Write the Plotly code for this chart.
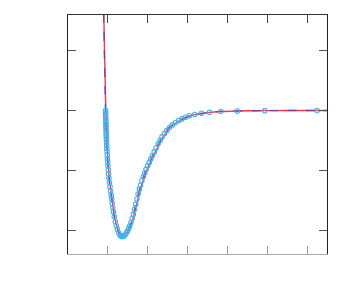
import plotly.graph_objects as go

# Fitted curve (blue dashed)
fit_a_x = [0.874, 0.895, 0.915, 0.930, 0.940, 0.950, 0.963, 0.975, 0.990, 1.008, 1.031, 1.056, 1.081, 1.106,
           1.131, 1.166, 1.204, 1.254, 1.305, 1.355, 1.413, 1.475, 1.548, 1.619, 1.681, 1.752, 1.820, 1.895,
           1.970, 2.046, 2.146, 2.247, 2.340, 2.448, 2.548, 2.649, 2.749, 2.850, 2.950, 3.051, 3.176, 3.345,
           3.546, 3.830, 4.250, 4.937, 6.251, 6.570]
fit_y = [2.508, 1.592, 0.842, 0.342, 0.008, -0.242, -0.492, -0.658, -0.825, -0.992, -1.158, -1.292, -1.408,
         -1.542, -1.658, -1.792, -1.908, -2.008, -2.075, -2.103, -2.083, -2.025, -1.925, -1.775, -1.608,
         -1.408, -1.242, -1.092, -0.958, -0.853, -0.708, -0.575, -0.458, -0.358, -0.275, -0.225, -0.187,
         -0.150, -0.117, -0.092, -0.070, -0.050, -0.032, -0.018, -0.008, -0.003, 0.0, 0.0]

# Second fit (red solid), slightly shifted
fit_b_x = [0.878, 0.899, 0.922, 0.938, 0.948, 0.959, 0.973, 0.986, 1.001, 1.020, 1.043, 1.068, 1.093, 1.118,
           1.143, 1.178, 1.216, 1.266, 1.318, 1.368, 1.428, 1.493, 1.570, 1.644, 1.708, 1.780, 1.849, 1.925,
           2.001, 2.078, 2.178, 2.278, 2.370, 2.476, 2.573, 2.670, 2.766, 2.864, 2.961, 3.060, 3.183, 3.350,
           3.549, 3.832, 4.251, 4.937, 6.251, 6.570]

# Data points (cyan open circles)
pts_x = [0.942, 0.944, 0.945, 0.947, 0.949, 0.950, 0.952, 0.954, 0.956, 0.958, 0.960, 0.962, 0.964, 0.968,
         0.971, 0.975, 0.979, 0.984, 0.990, 0.996, 1.002, 1.010, 1.019, 1.029, 1.041, 1.054, 1.068, 1.083,
         1.097, 1.110, 1.125, 1.141, 1.162, 1.187, 1.212, 1.240, 1.275, 1.310, 1.340,
         1.370, 1.400, 1.430, 1.460, 1.490, 1.520, 1.550, 1.580, 1.610, 1.640, 1.670, 1.700, 1.730, 1.760,
         1.790, 1.820, 1.855, 1.890, 1.925, 1.960, 2.000, 2.040, 2.080, 2.120, 2.165, 2.210, 2.260, 2.310,
         2.360, 2.420, 2.480, 2.550, 2.620, 2.700, 2.780, 2.860, 2.950, 3.050, 3.180, 3.350, 3.550, 3.830,
         4.250, 4.940, 6.250]
pts_y = [0.00, -0.04, -0.08, -0.12, -0.16, -0.20, -0.24, -0.28, -0.32, -0.36, -0.40, -0.44, -0.48, -0.53,
         -0.58, -0.63, -0.68, -0.74, -0.80, -0.86, -0.92, -0.99, -1.06, -1.13, -1.20, -1.27, -1.34, -1.41,
         -1.48, -1.55, -1.62, -1.69, -1.77, -1.85, -1.92, -1.98, -2.04, -2.08, -2.10,
         -2.10, -2.09, -2.075, -2.045, -2.01, -1.97, -1.925, -1.865, -1.80, -1.73, -1.645, -1.56, -1.475,
         -1.39, -1.31, -1.245, -1.17, -1.105, -1.04, -0.98, -0.92, -0.865, -0.81, -0.75, -0.69, -0.625,
         -0.56, -0.50, -0.44, -0.385, -0.335, -0.285, -0.24, -0.20, -0.168, -0.14, -0.112, -0.088, -0.066,
         -0.046, -0.030, -0.017, -0.008, -0.003, 0.0]

x_ticks = [1, 2, 3, 4, 5, 6]
y_ticks = [-2, -1, 0, 1]
x_range = [0, 6.5]
y_range = [-2.39, 1.59]

fig = go.Figure()
fig.add_trace(go.Scatter(x=fit_b_x, y=fit_y, mode="lines",
                         line=dict(color="#ff3355", width=1.4, shape="spline", smoothing=0.6),
                         showlegend=False, hoverinfo="skip"))
fig.add_trace(go.Scatter(x=fit_a_x, y=fit_y, mode="lines",
                         line=dict(color="rgba(60,60,190,0.7)", width=1.4, dash="dash",
                                   shape="spline", smoothing=0.6),
                         showlegend=False, hoverinfo="skip"))
fig.add_trace(go.Scatter(x=pts_x, y=pts_y, mode="markers",
                         marker=dict(symbol="circle-open", size=4.5, color="#3cb4ea",
                                     line=dict(width=1.1, color="#3cb4ea")),
                         showlegend=False))
fig.add_trace(go.Scatter(x=[], y=[], xaxis="x2", showlegend=False, hoverinfo="skip"))

fig.update_layout(
    width=341, height=292,
    margin=dict(l=60, r=22, t=7, b=46),
    paper_bgcolor="white", plot_bgcolor="white",
    xaxis=dict(range=x_range, tickvals=x_ticks, showticklabels=False, ticks="inside", ticklen=8,
               tickwidth=1, tickcolor="#999", showline=True, linecolor="#aaa", linewidth=1,
               showgrid=False, zeroline=False, mirror=False),
    xaxis2=dict(range=x_range, tickvals=x_ticks, showticklabels=False, ticks="inside", ticklen=8,
                tickwidth=1, tickcolor="#444", showline=True, linecolor="#333", linewidth=1,
                showgrid=False, zeroline=False, overlaying="x", side="top", anchor="y"),
    yaxis=dict(range=y_range, tickvals=y_ticks, showticklabels=False, ticks="inside", ticklen=8,
               tickwidth=1, tickcolor="#555", showline=True, linecolor="#222", linewidth=1,
               showgrid=False, zeroline=False, mirror="ticks"),
)

fig.write_html("out.html")
